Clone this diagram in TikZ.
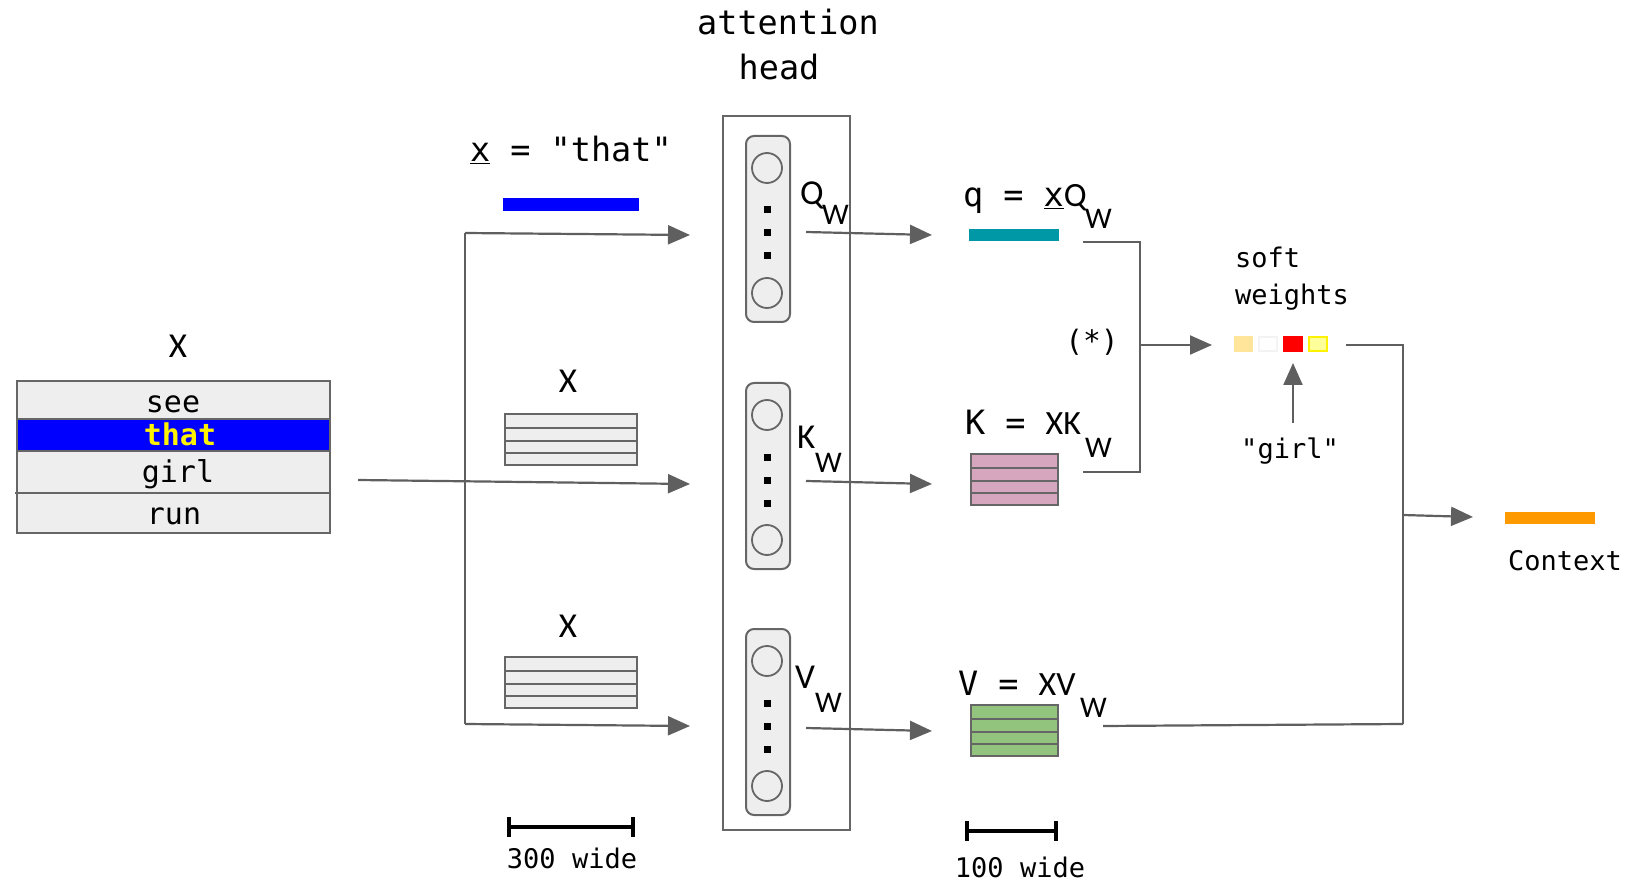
\documentclass[tikz,border=0pt]{standalone}
\usepackage{fontspec}
\setmainfont{DejaVu Sans Mono}
\newfontfamily\monof{DejaVu Sans Mono}
\newfontfamily\sansf{Carlito}
\usetikzlibrary{arrows.meta}
\newcommand{\myfs}[1]{\fontsize{#1}{#1}\selectfont}
\definecolor{lgray}{HTML}{EEEEEE}
\definecolor{bgray}{HTML}{666666}
\definecolor{agray}{HTML}{5F5F5F}
\definecolor{qteal}{HTML}{0097A7}
\definecolor{kpink}{HTML}{D5A6BD}
\definecolor{vgreen}{HTML}{93C47D}
\definecolor{ctxor}{HTML}{FF9900}
\definecolor{sw1}{HTML}{FFE599}
\definecolor{sw2}{HTML}{F3F3F3}
\definecolor{sw4}{HTML}{FFFF99}
\tikzset{
  txt/.style={inner sep=0pt, outer sep=0pt},
  mtxt/.style={txt, font=\monof\myfs{33.5}},
  stxt/.style={txt, font=\monof\myfs{27}},
  rtxt/.style={txt, font=\monof\myfs{30}},
  btxt/.style={txt, font=\sansf\myfs{35}},
  wtxt/.style={txt, font=\sansf\myfs{30}},
  cell/.style={draw=bgray, line width=2pt, fill=lgray},
  conn/.style={draw=agray, line width=2.2pt},
  arr/.style={conn, -{Triangle[length=22pt,width=19pt]}},
  scalebar/.style={draw=black, line width=4pt},
  wbox/.style={draw=bgray, line width=2pt, fill=lgray, rounded corners=8pt},
  neuron/.style={draw=bgray, line width=1.8pt, fill=lgray},
}
\newcommand{\drawmat}[5]{%
  \path[cell, fill=#5] (#1,#2) rectangle (#3,#2+51);
  \draw[bgray, line width=2pt] (#1,#2+14) -- (#3,#2+14);
  \draw[bgray, line width=2pt] (#1,#2+27) -- (#3,#2+27);
  \draw[bgray, line width=2pt] (#1,#2+39) -- (#3,#2+39);
}
\newcommand{\drawweights}[2]{% name, top
  \node[wbox, minimum width=44pt, minimum height=186pt, anchor=north west] (#1) at (745,#2) {};
  \draw[neuron] (767,#2+33) circle (15);
  \draw[neuron] (767,#2+158) circle (15);
  \fill[black] (763.5,#2+71.5) rectangle (770.5,#2+78.5);
  \fill[black] (763.5,#2+94.5) rectangle (770.5,#2+101.5);
  \fill[black] (763.5,#2+117.5) rectangle (770.5,#2+124.5);
}
\begin{document}
\begin{tikzpicture}[x=1pt,y=-1pt]
\useasboundingbox (0,0) rectangle (1652,882);

% attention head title
\node[mtxt, anchor=base] (atttitle) at (788,35) {attention};
\node[mtxt, anchor=base] (headtitle) at (779,80) {head};

% left table
\node[btxt, anchor=base] (Xtop) at (178,358) {X};
\path[cell] (17,381) rectangle (330,419);
\path[cell, fill=blue] (17,419) rectangle (330,451);
\path[cell] (17,451) rectangle (330,493);
\path[cell] (17,493) rectangle (330,533);
\draw[bgray, line width=2pt] (15,493) -- (17,493);
\node[rtxt, anchor=base] (see) at (173,413) {see};
\node[rtxt, anchor=base, text=yellow, font=\monof\bfseries\myfs{30}] (that) at (180,446) {that};
\node[rtxt, anchor=base] (girl) at (178,482) {girl};
\node[rtxt, anchor=base] (run) at (174,524) {run};
\coordinate (tabout) at (358,480);

% x = "that"
\node[mtxt, anchor=base west] (xthat) at (470,162) {\underline{x} = "that"};
\fill[blue] (503,198) rectangle (639,211);

% middle X matrices
\node[btxt, anchor=base] (Xmid) at (568,393) {X};
\drawmat{505}{414}{637}{}{lgray}
\node[btxt, anchor=base] (Xlow) at (568,637) {X};
\drawmat{505}{657}{637}{}{lgray}

% attention head box
\draw[bgray, line width=2pt] (723,116) rectangle (850,830);
\drawweights{Qbox}{135}
\drawweights{Kbox}{382}
\drawweights{Vbox}{628}

% weight labels
\node[btxt, anchor=base west] (QwQ) at (800,205) {Q};
\node[wtxt, anchor=base west] (QwW) at (822,225) {W};
\node[btxt, anchor=base west] (KwK) at (797,448) {K};
\node[wtxt, anchor=base west] (KwW) at (815,472) {W};
\node[btxt, anchor=base west] (VwV) at (795,688) {V};
\node[wtxt, anchor=base west] (VwW) at (815,712) {W};

% input connectors
\coordinate (split) at (465,233);
\coordinate (splitv) at (465,724);
\coordinate (qin) at (690,235);
\coordinate (kin) at (690,484);
\coordinate (vin) at (690,726);
\draw[conn] (split) -- (splitv);
\draw[arr] (split) -- (qin);
\draw[arr] (splitv) -- (vin);
\draw[arr] (tabout) -- (kin);

% output connectors
\coordinate (qout) at (806,232);
\coordinate (kout) at (806,481);
\coordinate (vout) at (806,728);
\coordinate (qres) at (932,235);
\coordinate (kres) at (932,484);
\coordinate (vres) at (932,731);
\draw[arr] (qout) -- (qres);
\draw[arr] (kout) -- (kres);
\draw[arr] (vout) -- (vres);

% q, K, V results
\node[mtxt, anchor=base west] (qform) at (963,207) {q = \underline{x}{\sansf\myfs{34}Q}};
\node[wtxt, anchor=base west] (qformW) at (1085,229) {W};
\fill[qteal] (969,229) rectangle (1059,241);

\node[mtxt, anchor=base west] (kform) at (965,435) {K = {\sansf\myfs{34}XK}};
\node[wtxt, anchor=base west] (kformW) at (1085,457) {W};
\drawmat{971}{454}{1058}{}{kpink}

\node[mtxt, anchor=base west] (vform) at (958,695) {V = {\sansf\myfs{34}XV}};
\node[wtxt, anchor=base west] (vformW) at (1080,717) {W};
\drawmat{971}{705}{1058}{}{vgreen}

% bracket q/K -> soft weights
\coordinate (qbr) at (1083,242);
\coordinate (qbrc) at (1140,242);
\coordinate (kbr) at (1083,472);
\coordinate (kbrc) at (1140,472);
\coordinate (brmid) at (1140,345);
\coordinate (swin) at (1212,345);
\draw[conn] (qbr) -- (qbrc) -- (kbrc) -- (kbr);
\draw[arr] (brmid) -- (swin);
\node[rtxt, anchor=center, font=\monof\myfs{29.5}] (star) at (1092,342) {(*)};

% soft weights
\node[stxt, anchor=base west] (soft) at (1235,268) {soft};
\node[stxt, anchor=base west] (weights) at (1235,305) {weights};
\fill[sw1] (1234,336) rectangle (1253,352);
\draw[draw=sw2, line width=1.5pt, fill=white] (1259,337) rectangle (1277,351);
\fill[red] (1283,336) rectangle (1303,352);
\draw[draw=yellow, line width=2pt, fill=sw4] (1309,337) rectangle (1327,351);
\node[stxt, anchor=base] (girlq) at (1290,458) {"girl"};
\coordinate (girlup) at (1293,423);
\coordinate (girltip) at (1293,363);
\draw[arr] (girlup) -- (girltip);

% to context
\coordinate (swout) at (1346,345);
\coordinate (rj) at (1403,345);
\coordinate (rjv) at (1403,724);
\coordinate (vvout) at (1103,726);
\coordinate (rjm) at (1403,515);
\coordinate (ctxin) at (1473,517);
\draw[conn] (swout) -- (rj) -- (rjv);
\draw[conn] (vvout) -- (rjv);
\draw[arr] (rjm) -- (ctxin);
\fill[ctxor] (1505,512) rectangle (1595,524);
\node[stxt, anchor=base west] (context) at (1508,570) {Context};

% scale bars
\coordinate (s3a) at (509,827);
\coordinate (s3b) at (633,827);
\draw[scalebar] (s3a) -- (s3b);
\draw[scalebar] (509,817) -- (509,837);
\draw[scalebar] (633,817) -- (633,837);
\node[stxt, anchor=base] (w300) at (572,868) {300 wide};
\coordinate (s1a) at (967,831);
\coordinate (s1b) at (1056,831);
\draw[scalebar] (s1a) -- (s1b);
\draw[scalebar] (967,821) -- (967,841);
\draw[scalebar] (1056,821) -- (1056,841);
\node[stxt, anchor=base] (w100) at (1020,877) {100 wide};
\end{tikzpicture}
\end{document}
